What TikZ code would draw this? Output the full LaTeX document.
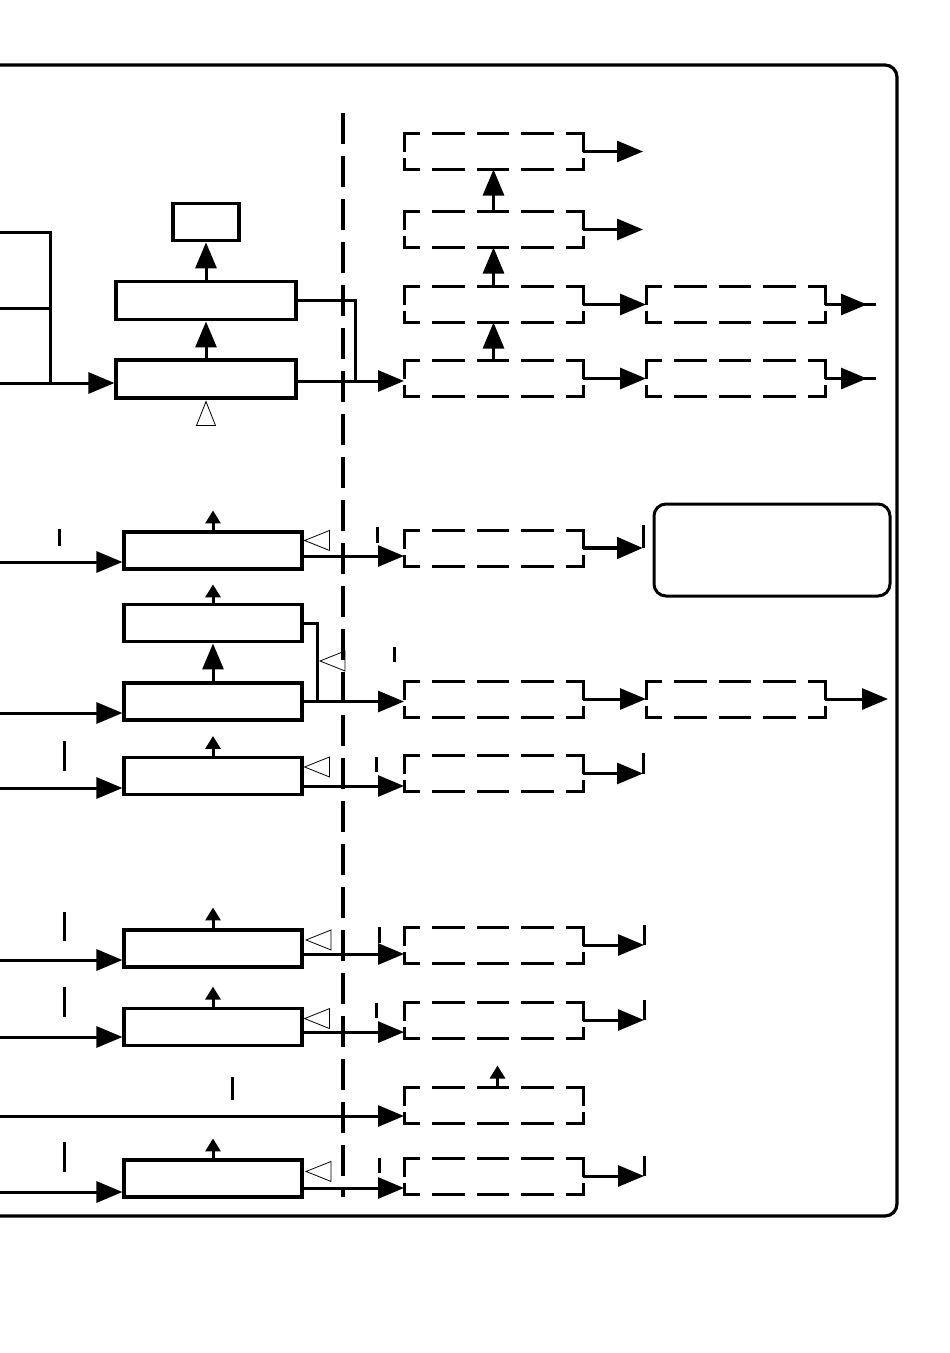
\documentclass[tikz,border=0pt]{standalone}
\usepackage{tikz}
\usetikzlibrary{arrows.meta, positioning, calc}

\begin{document}
\begin{tikzpicture}[x=1pt, y=-1pt, node distance=38pt and 63pt,
        block/.style={rectangle, draw, line width=3.1pt, inner sep=0pt, minimum width=178pt, minimum height=37pt},
        dblock/.style={rectangle, inner sep=0pt, outer sep=0pt, minimum width=179pt, minimum height=36pt},
        note/.style={rectangle, draw, line width=3pt, rounded corners=12pt, inner sep=0pt, minimum width=236pt, minimum height=92pt},
        line/.style={line width=3pt},
        arr/.style={line width=3pt, -{Triangle[length=26pt, width=21pt]}},
        sarr/.style={line width=3pt, -{Triangle[length=13pt, width=15pt]}},
        tick/.style={line width=3pt},
        hollow/.style={line width=0.8pt},
        hdash/.style={line width=3pt, line cap=rect, dash pattern=on 29.5pt off 15pt, dash phase=15pt},
        vdash/.style={line width=3pt, line cap=rect, dash pattern=on 17pt off 9pt on 40pt off 9pt},
        divider/.style={line width=3.2pt, dash pattern=on 31pt off 12pt},
        frame/.style={line width=3.2pt, rounded corners=12pt}]

    \useasboundingbox (0,0) rectangle (950,1353);

    % outer frame and divider
    \draw[frame] (0,65) -- (897,65) -- (897,1216) -- (0,1216);
    \draw[divider] (343,113) -- (343,1197);

    % top group
    \node (t1) [block, minimum width=180pt, minimum height=38pt] at (206,379) {};
    \node (t2) [block, minimum width=180pt, minimum height=38pt, above=37pt of t1] {};
    \node (ts) [block, minimum width=66pt, above=38pt of t2] {};

    \node (d4) [dblock] at (493.5,378.5) {};
    \node (d3) [dblock, above=of d4] {};
    \node (d2) [dblock, above=39pt of d3] {};
    \node (d1) [dblock, above=42pt of d2] {};
    \node (e3) [dblock, right=of d3] {};
    \node (e4) [dblock, right=of d4] {};

    \coordinate (ina) at (0,232);
    \coordinate (inb) at (0,308);
    \coordinate (inc) at (0,383);
    \coordinate (bus) at (50,383);
    \coordinate (join) at (355,381);
    \coordinate[right=60pt of d1.east] (d1o);
    \coordinate[right=60pt of d2.east] (d2o);
    \coordinate[right=42pt of e3.east] (e3o);
    \coordinate[right=51pt of e3.east] (e3e);
    \coordinate[right=42pt of e4.east] (e4o);
    \coordinate[right=51pt of e4.east] (e4e);

    \draw[line] (ina) -| (bus);
    \draw[line] (inb) -- (inb -| bus);
    \draw[arr] (inc) -- (inc -| t1.west);
    \draw[arr] (t1) -- (t2);
    \draw[arr] (t2) -- (ts);
    \draw[hollow] ([yshift=-2pt]t1.south) -- ++(9.5,24) -- ++(-19,0) -- cycle;
    \draw[line] (t2.east) -| (join);
    \draw[arr] (t1.east |- join) -- (join -| d4.west);

    \draw[arr] (d4) -- (d3);
    \draw[arr] (d3) -- (d2);
    \draw[arr] (d2) -- (d1);
    \draw[arr] (d1) -- (d1o);
    \draw[arr] (d2) -- (d2o);
    \draw[arr] (d3) -- (e3);
    \draw[arr] (d4) -- (e4);
    \draw[line] (e3) -- (e3e);
    \draw[arr] (e3) -- (e3o);
    \draw[line] (e4) -- (e4e);
    \draw[arr] (e4) -- (e4o);

    % middle group
    \node (m1) [block] at (213,550.5) {};
    \node (m3) [block] at (213,701.5) {};
    \node (m2) [block, above=of m3] {};
    \node (m4) [block] at (213,776) {};

    \node (f1) [dblock] at (493.5,548) {};
    \node (f2) [dblock] at (493.5,699) {};
    \node (f3) [dblock] at (493.5,773.5) {};
    \node (e5) [dblock, right=of f2] {};
    \node (g) [note] at (772,550) {};

    \coordinate (i1) at (0,562);
    \coordinate (i3) at (0,713);
    \coordinate (i4) at (0,788);
    \coordinate (m2j) at (317,701);
    \coordinate[right=60pt of f1.east] (f1o);
    \coordinate[right=60pt of f3.east] (f3o);
    \coordinate[right=63pt of e5.east] (e5o);

    \draw[arr] (i1) -- (i1 -| m1.west);
    \draw[arr] (i3) -- (i3 -| m3.west);
    \draw[arr] (i4) -- (i4 -| m4.west);
    \draw[sarr] (m1.north) -- ++(0,-20);
    \draw[sarr] (m2.north) -- ++(0,-19);
    \draw[sarr] (m4.north) -- ++(0,-20);
    \draw[arr] (m3) -- (m2);

    \draw[arr] ([yshift=-5.5pt]m1.east) -- ([yshift=-5.5pt]m1.east -| f1.west);
    \draw[line] (m2.east) -| (m2j);
    \draw[arr] (m3.east) -- (m3.east -| f2.west);
    \draw[arr] ([yshift=-10pt]m4.east) -- ([yshift=-10pt]m4.east -| f3.west);

    \draw[hollow] ([xshift=1pt, yshift=-10pt]m1.north east) -- ++(25,-10) -- ++(0,20) -- cycle;
    \draw[hollow] (320,661) -- ++(25,-10) -- ++(0,20) -- cycle;
    \draw[hollow] ([xshift=1pt, yshift=-11pt]m4.north east) -- ++(25,-10) -- ++(0,20) -- cycle;

    \draw[arr, line width=4.8pt] (f1) -- (f1o);
    \draw[tick] (f1o) -- ++(0,-23);
    \draw[arr] (f2) -- (e5);
    \draw[arr] (e5) -- (e5o);
    \draw[arr] (f3) -- (f3o);
    \draw[tick] (f3o) -- ++(0,-21);

    \draw[tick] (59,529) -- (59,546);
    \draw[tick] (64,741) -- (64,771);
    \draw[tick] (377,527) -- (377,543);
    \draw[tick] (394,647) -- (394,662);
    \draw[tick] (376,757) -- (376,772);

    % bottom group
    \node (b1) [block] at (213,948.5) {};
    \node (b2) [block, below=of b1] {};
    \node (b4) [block] at (213,1178.5) {};

    \node (h1) [dblock] at (493.5,945) {};
    \node (h2) [dblock] at (493.5,1020) {};
    \node (h3) [dblock] at (493.5,1105.5) {};
    \node (h4) [dblock] at (493.5,1176) {};

    \coordinate (j1) at (0,960);
    \coordinate (j2) at (0,1037);
    \coordinate (j3) at (0,1116);
    \coordinate (j4) at (0,1192);
    \coordinate[right=61pt of h1.east] (h1o);
    \coordinate[right=61pt of h2.east] (h2o);
    \coordinate[right=61pt of h4.east] (h4o);

    \draw[arr] (j1) -- (j1 -| b1.west);
    \draw[arr] (j2) -- (j2 -| b2.west);
    \draw[arr] (j3) -- (j3 -| h3.west);
    \draw[arr] (j4) -- (j4 -| b4.west);
    \draw[sarr] (b1.north) -- ++(0,-21);
    \draw[sarr] (b2.north) -- ++(0,-20);
    \draw[sarr] (b4.north) -- ++(0,-20);
    \draw[sarr] ([xshift=4pt]h3.north) -- ++(0,-22);

    \draw[hollow] ([xshift=2.5pt, yshift=-11.5pt]b1.north east) -- ++(25,-10) -- ++(0,20) -- cycle;
    \draw[hollow] ([xshift=1pt, yshift=-12pt]b2.north east) -- ++(25,-10) -- ++(0,20) -- cycle;
    \draw[hollow] ([xshift=2.5pt, yshift=-13pt]b4.north east) -- ++(25,-10) -- ++(0,20) -- cycle;

    \draw[arr] ([yshift=-5.5pt]b1.east) -- ([yshift=-5.5pt]b1.east -| h1.west);
    \draw[arr] ([yshift=-5.5pt]b2.east) -- ([yshift=-5.5pt]b2.east -| h2.west);
    \draw[arr] ([yshift=-9.5pt]b4.east) -- ([yshift=-9.5pt]b4.east -| h4.west);

    \draw[arr] (h1) -- (h1o);
    \draw[tick] (h1o) -- ++(0,-20);
    \draw[arr] (h2) -- (h2o);
    \draw[tick] (h2o) -- ++(0,-20);
    \draw[arr] (h4) -- (h4o);
    \draw[tick] (h4o) -- ++(0,-20);

    \draw[tick] (64,912) -- (64,941);
    \draw[tick] (64,987) -- (64,1017);
    \draw[tick] (232,1077) -- (232,1100);
    \draw[tick] (64,1142) -- (64,1172);
    \draw[tick] (379,927) -- (379,943);
    \draw[tick] (376,1003) -- (376,1018);
    \draw[tick] (379,1158) -- (379,1173);

    % dashed outlines
    \foreach \b in {d1,d2,d3,d4,e3,e4,f1,f2,f3,e5,h1,h2,h3,h4} {
        \draw[hdash] (\b.north west) -- (\b.north east);
        \draw[hdash] (\b.south west) -- (\b.south east);
        \draw[vdash] (\b.north west) -- (\b.south west);
        \draw[vdash] (\b.north east) -- (\b.south east);
    }

\end{tikzpicture}
\end{document}
